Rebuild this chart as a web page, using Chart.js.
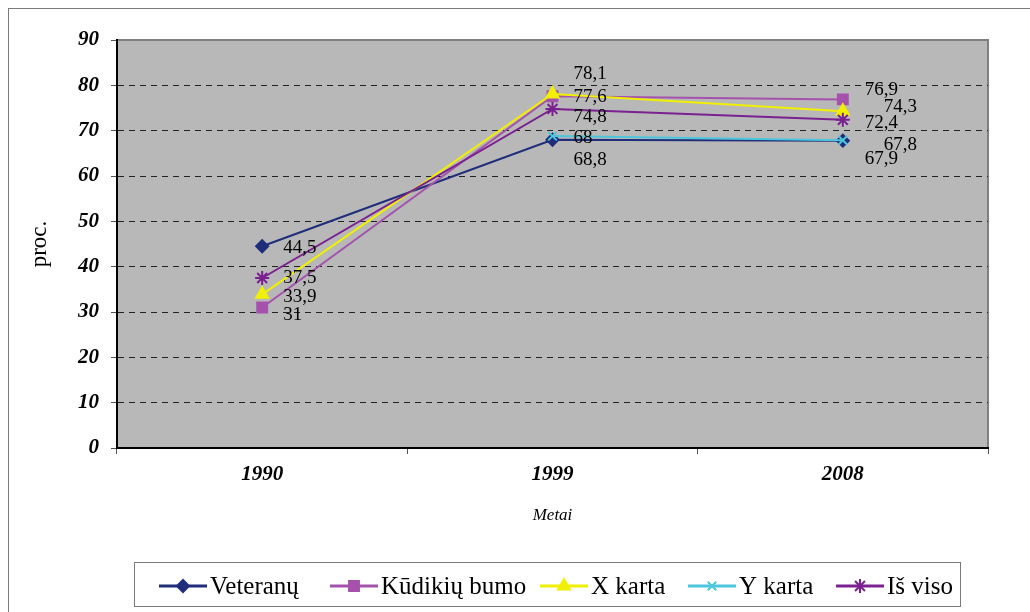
<!DOCTYPE html>
<html>
<head>
<meta charset="utf-8">
<script src="https://cdn.jsdelivr.net/npm/chart.js@4/dist/chart.umd.min.js"></script>
<style>
  html, body { margin: 0; padding: 0; background: #fff; }
  canvas { display: block; }
</style>
</head>
<body>
<canvas id="chart" width="1030" height="612"></canvas>
<script>
// Duomenys
const years = ['1990', '1999', '2008'];
const veteranai = [44.5, 68, 67.8];
const kudikiuBumo = [31, 77.6, 76.9];
const xKarta = [33.9, 78.1, 74.3];
const yKarta = [null, 68.8, 67.9];
const isViso = [37.5, 74.8, 72.4];

const SERIF = "'Liberation Serif', 'Times New Roman', serif";

// label offsets (px) from each point, per series
const labelOffsets = [
    [[21, 2], [21, -2], [41, 4]],
    [[21, 8], [21, 1], [22, -9]],
    [[21, 3], [21, -20], [41, -4]],
    [[0, 0], [21, 24], [22, 19]],
    [[21, 0], [21, 8], [22, 3]]
];

const plotBackground = {
    id: 'plotBackground',
    beforeDraw(chart) {
        const { ctx, chartArea: a } = chart;
        ctx.save();
        // outer frame
        ctx.strokeStyle = '#7a7a7a';
        ctx.lineWidth = 1;
        ctx.strokeRect(8.5, 8.5, 1100, 700);
        ctx.fillStyle = '#b8b8b8';
        ctx.fillRect(a.left, a.top, a.right - a.left, a.bottom - a.top);
        ctx.strokeStyle = '#808080';
        ctx.lineWidth = 2;
        ctx.strokeRect(a.left, a.top, a.right - a.left, a.bottom - a.top);
        ctx.restore();
    }
};

const valueLabels = {
    id: 'valueLabels',
    afterDatasetsDraw(chart) {
        const ctx = chart.ctx;
        ctx.save();
        ctx.font = '19px ' + SERIF;
        ctx.fillStyle = '#000';
        ctx.textAlign = 'left';
        ctx.textBaseline = 'middle';
        chart.data.datasets.forEach(function(ds, i) {
            const meta = chart.getDatasetMeta(i);
            meta.data.forEach(function(pt, j) {
                const v = ds.data[j];
                if (v === null || v === undefined) return;
                const off = labelOffsets[i][j];
                ctx.fillText(String(v).replace('.', ','), pt.x + off[0], pt.y + off[1]);
            });
        });
        ctx.restore();
    }
};

const boxLegend = {
    id: 'boxLegend',
    afterDraw(chart) {
        const ctx = chart.ctx;
        ctx.save();
        ctx.strokeStyle = '#7a7a7a';
        ctx.lineWidth = 1;
        ctx.strokeRect(134.5, 562.5, 826, 44);
        ctx.font = '25px ' + SERIF;
        ctx.textBaseline = 'middle';
        ctx.textAlign = 'left';
        const starts = [159, 330, 540, 688, 836];
        const y = 586;
        chart.data.datasets.forEach(function(ds, i) {
            const x = starts[i];
            ctx.strokeStyle = ds.borderColor;
            ctx.lineWidth = 3;
            ctx.beginPath();
            ctx.moveTo(x, y);
            ctx.lineTo(x + 48, y);
            ctx.stroke();
            ctx.fillStyle = ds.pointBackgroundColor;
            ctx.strokeStyle = ds.pointBorderColor;
            ctx.lineWidth = 2;
            Chart.helpers.drawPoint(ctx, { pointStyle: ds.pointStyle, radius: ds.pointRadius, rotation: 0, borderWidth: 2 }, x + 24, y);
            ctx.fillStyle = '#000';
            ctx.fillText(ds.label, x + 51, y + 1);
        });
        ctx.restore();
    }
};

function series(label, data, color, style, radius, order) {
    return {
        label: label,
        data: data,
        borderColor: color,
        backgroundColor: color,
        pointBackgroundColor: color,
        pointBorderColor: color,
        borderWidth: 2,
        pointStyle: style,
        pointRadius: radius,
        pointBorderWidth: 2,
        tension: 0,
        spanGaps: false,
        order: order
    };
}

new Chart(document.getElementById('chart'), {
    type: 'line',
    data: {
        labels: years,
        datasets: [
            series('Veteranų', veteranai, '#1f2d7a', 'rectRot', 6, 5),
            series('Kūdikių bumo', kudikiuBumo, '#a552ad', 'rect', 7, 4),
            series('X karta', xKarta, '#f0f000', 'triangle', 7, 3),
            series('Y karta', yKarta, '#4cc6dc', 'crossRot', 6, 2),
            series('Iš viso', isViso, '#7a2090', 'star', 7, 1)
        ]
    },
    options: {
        responsive: false,
        animation: false,
        devicePixelRatio: 1,
        layout: { padding: { left: 8, top: 40, right: 42, bottom: 80 } },
        plugins: {
            legend: { display: false },
            tooltip: { enabled: false }
        },
        scales: {
            x: {
                offset: true,
                afterFit: function(scale) { scale.height = 84; },
                grid: {
                    offset: true,
                    drawOnChartArea: false,
                    tickLength: 6,
                    tickColor: '#555',
                    tickBorderDash: []
                },
                border: { display: true, color: '#000', width: 2 },
                ticks: {
                    color: '#000',
                    padding: 8,
                    font: { family: SERIF, size: 21, style: 'italic', weight: 'bold' }
                },
                title: {
                    display: true,
                    text: 'Metai',
                    color: '#000',
                    padding: { top: 0, bottom: 6 },
                    font: { family: SERIF, size: 17, style: 'italic' }
                }
            },
            y: {
                min: 0,
                max: 90,
                afterFit: function(scale) { scale.width = 109; },
                grid: {
                    color: function(c) {
                        const v = c.tick ? c.tick.value : null;
                        return (v === 0 || v === 90) ? 'rgba(0,0,0,0)' : '#222';
                    },
                    lineWidth: 1,
                    tickLength: 6,
                    tickColor: '#555',
                    tickBorderDash: []
                },
                border: { display: true, color: '#000', width: 2, dash: [6, 5] },
                ticks: {
                    stepSize: 10,
                    color: '#000',
                    padding: 12,
                    font: { family: SERIF, size: 21, style: 'italic', weight: 'bold' }
                },
                title: {
                    display: true,
                    text: 'proc.',
                    color: '#000',
                    padding: { top: 18, bottom: 0 },
                    font: { family: SERIF, size: 23 }
                }
            }
        }
    },
    plugins: [plotBackground, valueLabels, boxLegend]
});
</script>
</body>
</html>
